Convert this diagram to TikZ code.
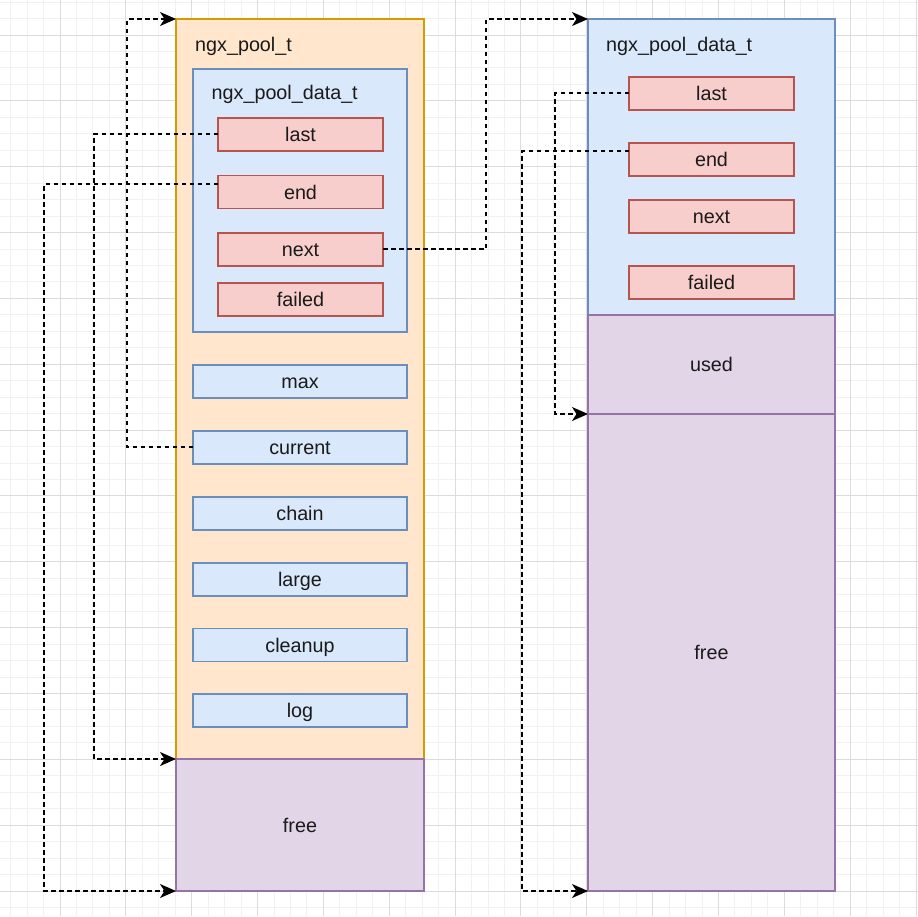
\documentclass[tikz,border=0pt]{standalone}
\usepackage{fontspec}
\setmainfont{Liberation Sans}
\usetikzlibrary{arrows.meta}
\definecolor{orfill}{HTML}{FFE6CC}\definecolor{ordraw}{HTML}{D79B00}
\definecolor{blfill}{HTML}{DAE8FC}\definecolor{bldraw}{HTML}{6C8EBF}
\definecolor{rdfill}{HTML}{F8CECC}\definecolor{rddraw}{HTML}{B85450}
\definecolor{pufill}{HTML}{E1D5E7}\definecolor{pudraw}{HTML}{9673A6}
\definecolor{gridminor}{HTML}{F1F1F1}\definecolor{gridmajor}{HTML}{DCDCDC}
\definecolor{txt}{HTML}{1A1A1A}
\tikzset{
  box/.style={rectangle, anchor=north west, line width=1.4pt, outer sep=0pt, inner sep=0pt,
    font=\fontsize{19.75}{24}\selectfont, text=txt, text height=14pt, text depth=0pt},
  orbox/.style={box, fill=orfill, draw=ordraw},
  blbox/.style={box, fill=blfill, draw=bldraw},
  rdbox/.style={box, fill=rdfill, draw=rddraw},
  pubox/.style={box, fill=pufill, draw=pudraw},
  field/.style={minimum width=214, minimum height=33},
  rfield/.style={minimum width=165, minimum height=33},
  title/.style={anchor=base west, inner sep=0pt, font=\fontsize{19.75}{24}\selectfont, text=txt},
  conn/.style={line width=1.5pt, black, dash pattern=on 4.5pt off 3.5pt,
    -{Stealth[length=16pt, width=14pt, inset=4.5pt]}},
}
\begin{document}
\begin{tikzpicture}[x=1pt, y=-1pt]
\useasboundingbox (0,0) rectangle (918,916);
\fill[white] (0,0) rectangle (918,916);
% grid
\foreach \i in {-3,...,52} {
  \draw[gridminor, line width=1pt] ({60+16.4625*\i},0) -- ({60+16.4625*\i},916);
}
\foreach \j in {-2,...,53} {
  \draw[gridminor, line width=1pt] (0,{35+16.4625*\j}) -- (918,{35+16.4625*\j});
}
\foreach \i in {0,...,13} {
  \draw[gridmajor, line width=1pt] ({60+65.85*\i},0) -- ({60+65.85*\i},916);
}
\foreach \j in {0,...,13} {
  \draw[gridmajor, line width=1pt] (0,{35+65.85*\j}) -- (918,{35+65.85*\j});
}

% left structure
\node[orbox, minimum width=248, minimum height=740] (pool) at (176,19) {};
\node[pubox, minimum width=248, minimum height=132] (freeL) at (176,759) {free};
\node[title] (tpool) at (195,51) {ngx\_pool\_t};
\node[blbox, minimum width=214, minimum height=263] (dataL) at (193,69) {};
\node[title] (tdataL) at (211.5,99) {ngx\_pool\_data\_t};
\node[rdbox, rfield] (Llast) at (218,118) {last};
\node[rdbox, rfield] (Lend) at (218,175.5) {end};
\node[rdbox, rfield] (Lnext) at (218,233) {next};
\node[rdbox, rfield] (Lfailed) at (218,283) {failed};
\node[blbox, field] (max) at (193,365) {max};
\node[blbox, field] (cur) at (193,431) {current};
\node[blbox, field] (chain) at (193,497) {chain};
\node[blbox, field] (large) at (193,563) {large};
\node[blbox, field] (cleanup) at (193,628.5) {cleanup};
\node[blbox, field] (log) at (193,694) {log};

% right structure
\node[blbox, minimum width=247, minimum height=296] (dataR) at (588,19) {};
\node[title] (tdataR) at (606,51) {ngx\_pool\_data\_t};
\node[rdbox, rfield] (Rlast) at (629,77) {last};
\node[rdbox, rfield] (Rend) at (629,143) {end};
\node[rdbox, rfield] (Rnext) at (629,200) {next};
\node[rdbox, rfield] (Rfailed) at (629,266) {failed};
\node[pubox, minimum width=247, minimum height=99] (usedR) at (588,315) {used};
\node[pubox, minimum width=247, minimum height=477] (freeR) at (588,414) {free};

% connectors
\draw[conn] ([yshift=0.5pt]cur.west) -- ++(-66,0) |- (pool.north west);
\draw[conn] ([yshift=0.5pt]Llast.west) -- ++(-124,0) |- (freeL.north west);
\draw[conn] ([yshift=8pt]Lend.west) -- ++(-174,0) |- (freeL.south west);
\draw[conn] ([yshift=0.5pt]Lnext.east) -- ++(103,0) |- (dataR.north west);
\draw[conn] ([yshift=0.5pt]Rlast.west) -- ++(-74,0) |- (freeR.north west);
\draw[conn] ([yshift=8.5pt]Rend.west) -- ++(-107,0) |- (freeR.south west);
\end{tikzpicture}
\end{document}
